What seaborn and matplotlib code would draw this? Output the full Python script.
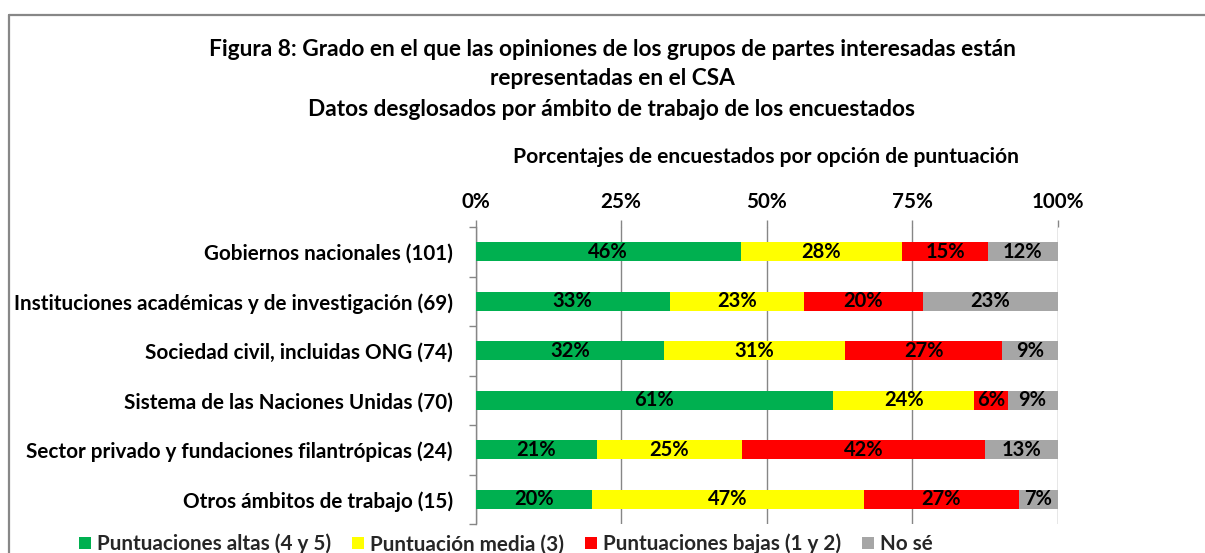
import matplotlib
matplotlib.use("Agg")
import matplotlib.pyplot as plt
import matplotlib.ticker as mticker
from matplotlib.lines import Line2D
from matplotlib.patches import Patch
import seaborn as sns
import numpy as np
import pandas as pd

# data: respondents per rating option, by field of work
categories = ["Gobiernos nacionales (101)",
              "Instituciones académicas y de investigación (69)",
              "Sociedad civil, incluidas ONG (74)",
              "Sistema de las Naciones Unidas (70)",
              "Sector privado y fundaciones filantrópicas (24)",
              "Otros ámbitos de trabajo (15)"]
n_resp = [101, 69, 74, 70, 24, 15]
altas = [46, 23, 24, 43, 5, 3]
media = [28, 16, 23, 17, 6, 7]
bajas = [15, 14, 20, 4, 10, 4]
no_se = [12, 16, 7, 6, 3, 1]

series_names = ["Puntuaciones altas (4 y 5)", "Puntuación media (3)",
                "Puntuaciones bajas (1 y 2)", "No sé"]
colors = ["#00B050", "#FFFF00", "#FF0000", "#A6A6A6"]
tick_vals = [0, 25, 50, 75, 100]
tick_labels = ["0%", "25%", "50%", "75%", "100%"]

title_lines = ["Figura 8: Grado en el que las opiniones de los grupos de partes interesadas están",
               "representadas en el CSA",
               "Datos desglosados por ámbito de trabajo de los encuestados"]
x_title = "Porcentajes de encuestados por opción de puntuación"

sns.set_theme(style="white")
plt.rcParams["font.family"] = ["Lato", "DejaVu Sans"]
plt.rcParams["font.weight"] = "bold"

# percentages
counts = np.array([altas, media, bajas, no_se], dtype=float)
pct = counts / np.array(n_resp, dtype=float) * 100
cum = np.cumsum(pct, axis=0)

W, H = 1205, 553
fig = plt.figure(figsize=(W / 100, H / 100), dpi=100)
ax = fig.add_axes([475.5 / W, 1 - 524 / H, 582 / W, 297 / H])

# stacked bars: draw cumulative totals from the back to the front
for i in range(3, -1, -1):
    df = pd.DataFrame({"cat": categories, "val": cum[i]})
    sns.barplot(data=df, x="val", y="cat", orient="h", color=colors[i],
                saturation=1, width=0.385, linewidth=0, edgecolor="none",
                ax=ax, zorder=3)

# segment labels
for i in range(4):
    for j in range(len(categories)):
        left = cum[i][j] - pct[i][j]
        ax.text(left + pct[i][j] / 2, j, f"{int(pct[i][j] + 0.5)}%",
                ha="center", va="center", fontsize=14.5, fontweight="bold",
                color="black", zorder=4)

ax.set_xlim(0, 100)
ax.set_ylim(5.5, -0.5)
ax.xaxis.tick_top()
ax.set_xticks(tick_vals)
ax.set_xticklabels(tick_labels)
ax.set_xlabel("")
ax.set_ylabel("")
ax.tick_params(axis="x", top=True, bottom=False, length=5, width=1, color="#868686",
               pad=6, labelsize=14.9, direction="out")
ax.tick_params(axis="y", which="major", length=0, pad=16.2, labelsize=14.9)
ax.yaxis.set_minor_locator(mticker.FixedLocator(np.arange(-0.5, len(categories), 1)))
ax.tick_params(axis="y", which="minor", left=True, length=5, width=1, color="#868686",
               direction="out")
for lab in ax.get_xticklabels() + ax.get_yticklabels():
    lab.set_fontweight("bold")
    lab.set_color("black")

ax.grid(axis="x", color="#868686", linewidth=1, zorder=0)
ax.grid(axis="y", visible=False)
ax.set_axisbelow(True)
for side in ["top", "right", "bottom"]:
    ax.spines[side].set_visible(False)
ax.spines["left"].set_color("#868686")
ax.spines["left"].set_linewidth(1)

# titles
for line, ypx in zip(title_lines, [49, 79, 110]):
    fig.text(612 / W, 1 - ypx / H, line, ha="center", va="center",
             fontsize=16.3, fontweight="bold", color="black")
fig.text(766 / W, 1 - 157 / H, x_title, ha="center", va="center",
         fontsize=15.1, fontweight="bold", color="black")

# legend
handles = [Patch(facecolor=c, edgecolor="none") for c in colors]
fig.legend(handles, series_names, ncol=4, loc="center left",
           bbox_to_anchor=(79 / W, 1 - 544 / H), frameon=False,
           handlelength=0.58, handleheight=0.58,
           handletextpad=0.3, columnspacing=1.0, borderpad=0, borderaxespad=0,
           prop={"weight": "bold", "size": 14.9})

# chart frame (top and left edges visible)
fig.add_artist(Line2D([9 / W, 1], [1 - 15 / H, 1 - 15 / H], color="#878787", lw=1.6,
                      transform=fig.transFigure))
fig.add_artist(Line2D([9 / W, 9 / W], [0, 1 - 15 / H], color="#878787", lw=1.6,
                      transform=fig.transFigure))

fig.savefig("out.png", dpi=100)
